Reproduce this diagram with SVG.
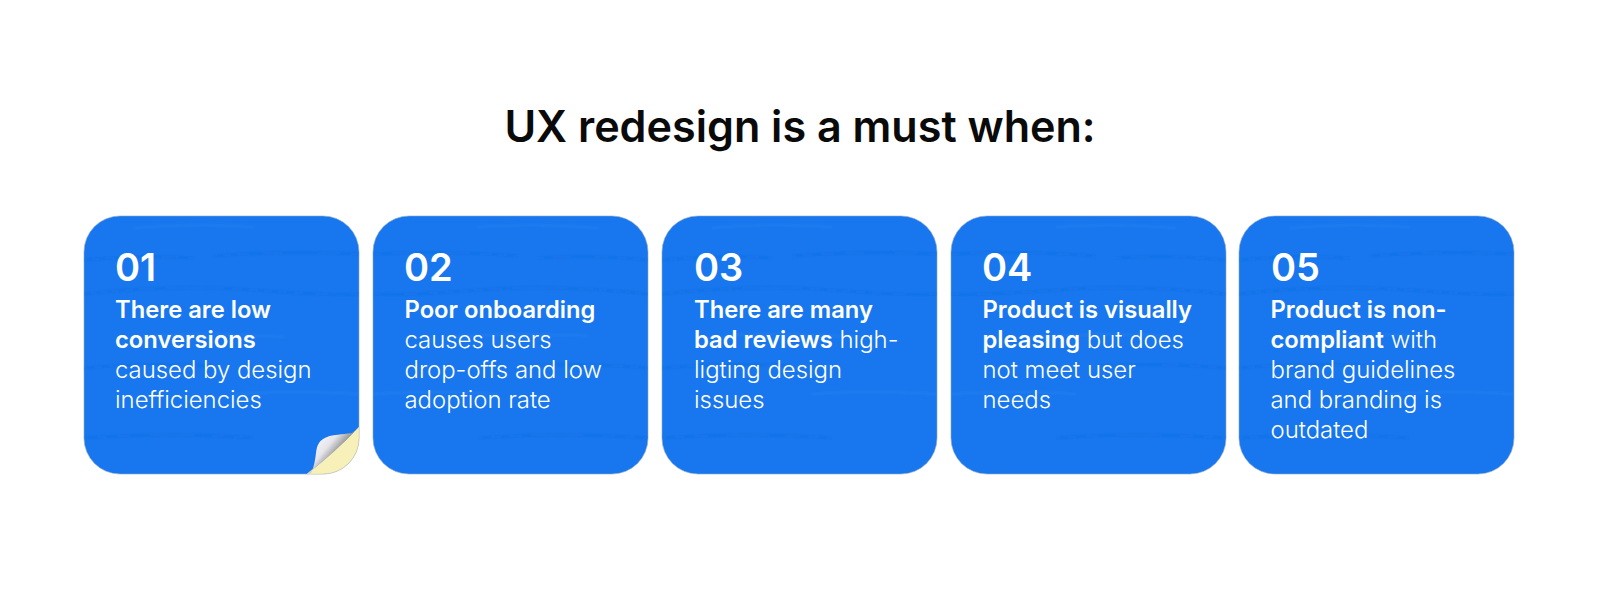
<svg xmlns="http://www.w3.org/2000/svg" width="1600" height="612" viewBox="0 0 1600 612">
<style>
text{font-family:Inter,"Liberation Sans",sans-serif;fill:#fff}
.title{font-size:43.1px;font-weight:600;fill:#0a0a0a;text-anchor:middle}
.num{font-size:38px;font-weight:600}
.body{font-size:23.9px;font-weight:300}
.b{font-size:23.75px;font-weight:600}
.card{fill:#1877ee;stroke:#8fa8c8;stroke-width:.6}
.w{fill:none;stroke:#0f6ce0;stroke-opacity:.45;stroke-width:2.5}
.h{fill:none;stroke:#3a8cf5;stroke-opacity:.3;stroke-width:2}
</style>
<defs>
<filter id="soft" x="-5%" y="-5%" width="110%" height="110%"><feGaussianBlur stdDeviation="1.3"/></filter>
<clipPath id="cc"><rect width="275" height="258" rx="36"/></clipPath>
<g id="wr">
<g clip-path="url(#cc)"><g filter="url(#soft)">
<path class="w" d="M0 44Q60 38 110 42"/>
<path class="w" d="M130 40Q210 34 275 38"/>
<path class="h" d="M50 12Q110 7 170 11"/>
<path class="w" d="M0 78Q90 68 170 74T275 78"/>
<path class="h" d="M60 120Q120 116 200 121"/>
<path class="w" d="M0 152Q70 146 130 150"/>
<path class="h" d="M150 178Q210 174 275 178"/>
<path class="w" d="M0 222Q90 216 170 222"/>
</g></g>
</g>
<linearGradient id="curl" gradientUnits="userSpaceOnUse" x1="232" y1="220" x2="256" y2="240"><stop offset="0" stop-color="#fbfbfb"/><stop offset=".5" stop-color="#e4e4ea"/><stop offset=".8" stop-color="#a2a2a2"/><stop offset="1" stop-color="#6e6e60"/></linearGradient>
</defs>
<text class="title" x="800" y="142">UX redesign is a must when:</text>
<g id="card-1" transform="translate(84 216)">
<rect class="card" width="275" height="258" rx="36"/><use href="#wr"/>
<path d="M275 211V222A36 36 0 0 1 239 258H223Q250 237 275 211Z" fill="#f7f0b8" stroke="#d8d2a0" stroke-width=".5"/>
<path d="M223 258Q250 237 275 211Q272 215 268 217C257 219 250 218 243 221C235 224 233 229 232 237C231 245 230 251 227 257Z" fill="url(#curl)"/>
</g>
<g id="card-2" transform="translate(373 216)">
<rect class="card" width="275" height="258" rx="36"/><use href="#wr" transform="translate(275 0) scale(-1 1)"/>
</g>
<g id="card-3" transform="translate(662 216)">
<rect class="card" width="275" height="258" rx="36"/><use href="#wr"/>
</g>
<g id="card-4" transform="translate(951 216)">
<rect class="card" width="275" height="258" rx="36"/><use href="#wr" transform="translate(275 0) scale(-1 1)"/>
</g>
<g id="card-5" transform="translate(1239 216)">
<rect class="card" width="275" height="258" rx="36"/><use href="#wr"/>
</g>
<g id="text-1">
<text class="num" x="115" y="281">01</text>
<text class="body b" x="115" y="318">There are low</text>
<text class="body b" x="115" y="348">conversions</text>
<text class="body" x="115" y="378">caused by design</text>
<text class="body" x="115" y="408">inefficiencies</text>
</g>
<g id="text-2">
<text class="num" x="404" y="281">02</text>
<text class="body b" x="404.5" y="318">Poor onboarding</text>
<text class="body" x="404.5" y="348">causes users</text>
<text class="body" x="404.5" y="378">drop-offs and low</text>
<text class="body" x="404.5" y="408">adoption rate</text>
</g>
<g id="text-3">
<text class="num" x="694" y="281">03</text>
<text class="body b" x="694" y="318">There are many</text>
<text class="body" x="694" y="348"><tspan class="b">bad reviews</tspan> high-</text>
<text class="body" x="694" y="378">ligting design</text>
<text class="body" x="694" y="408">issues</text>
</g>
<g id="text-4">
<text class="num" x="982" y="281">04</text>
<text class="body b" x="982.5" y="318">Product is visually</text>
<text class="body" x="982.5" y="348"><tspan class="b">pleasing</tspan> but does</text>
<text class="body" x="982.5" y="378">not meet user</text>
<text class="body" x="982.5" y="408">needs</text>
</g>
<g id="text-5">
<text class="num" x="1271" y="281">05</text>
<text class="body b" x="1270.5" y="318">Product is non-</text>
<text class="body" x="1270.5" y="348"><tspan class="b">compliant</tspan> with</text>
<text class="body" x="1270.5" y="378">brand guidelines</text>
<text class="body" x="1270.5" y="408">and branding is</text>
<text class="body" x="1270.5" y="438">outdated</text>
</g>
</svg>
